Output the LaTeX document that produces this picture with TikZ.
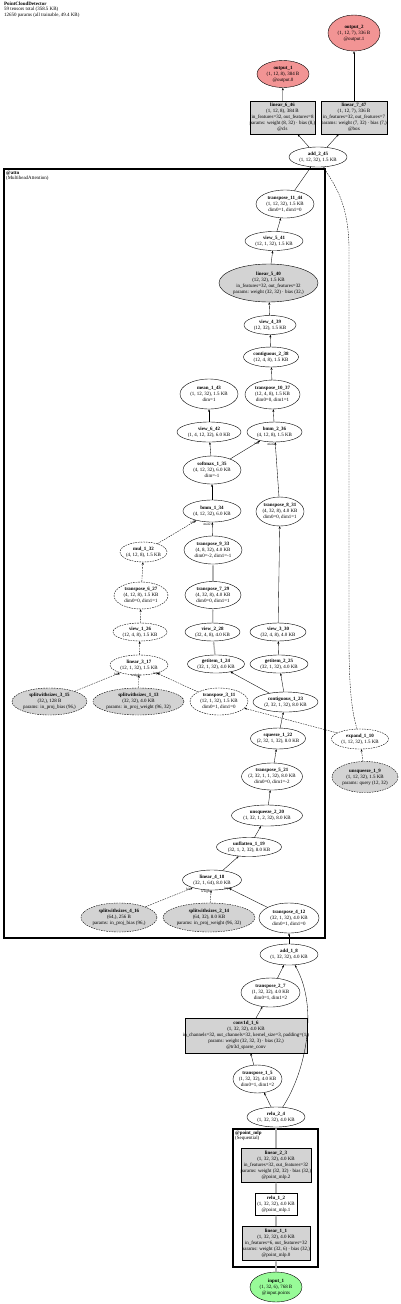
\documentclass[tikz,border=0pt]{standalone}
\usepackage{fontspec}
\setmainfont{Liberation Serif}
\usetikzlibrary{shapes.geometric,arrows.meta}
\definecolor{gfill}{HTML}{D3D3D3}
\definecolor{pinkf}{HTML}{F29494}
\definecolor{greenf}{HTML}{98FB98}
\tikzset{
 base/.style={draw, line width=0.4pt, inner sep=0pt},
 dashpat/.style={dash pattern=on 1.6pt off 1pt},
 el/.style={base, ellipse},
 eld/.style={el, dashpat},
 elg/.style={el, fill=gfill},
 elgd/.style={el, fill=gfill, dashpat},
 bx/.style={base, rectangle, fill=gfill},
 bxw/.style={base, rectangle, fill=white},
 outn/.style={el, fill=pinkf},
 inn/.style={el, fill=greenf},
 txt/.style={align=center, inner sep=0pt, font=\fontsize{4.95}{6.1}\selectfont},
 ed/.style={draw, line width=0.35pt, -{Stealth[length=2.6pt,width=2pt]}},
 edd/.style={ed, dashpat},
 edt/.style={ed, line width=1.3pt, draw=black!30},
 lbl/.style={font=\fontsize{3.5}{4}\selectfont, inner sep=0pt},
 clus/.style={draw, line width=1.6pt},
 hdr/.style={anchor=north west, align=left, inner sep=0pt, font=\fontsize{4.95}{5.3}\selectfont},
}
\newcommand{\nd}[7]{%
  \node[#1, minimum width=#5pt, minimum height=#6pt] (#2) at (#3,#4) {};
  \node[txt] at (#3,#4) {#7};}
\begin{document}
\begin{tikzpicture}[x=1pt,y=-1pt]
\useasboundingbox (0,0) rectangle (400,1304);
\node[hdr] (title) at (4,2) {\textbf{PointCloudDetector}\\59 tensors total (358.5 KB)\\12650 params (all trainable, 49.4 KB)};
% clusters
\draw[clus] (4,169) rectangle (325,938);
\node[hdr] (attnlbl) at (6,171) {\textbf{@attn}\\(MultiheadAttention)};
\draw[clus] (233,1129) rectangle (318,1267);
\node[hdr] (mlplbl) at (235,1131) {\textbf{@point\_mlp}\\(Sequential)};
% nodes
\nd{outn}{o2}{354}{33}{52}{36}{\textbf{output\_2}\\(1, 12, 7), 336 B\\@output.1}
\nd{outn}{o1}{283}{74}{52}{27}{\textbf{output\_1}\\(1, 12, 8), 384 B\\@output.0}
\nd{bx}{n46}{282.5}{117.5}{65}{33}{\textbf{linear\_6\_46}\\(1, 12, 8), 384 B\\in\_features=32, out\_features=8\\params: weight (8, 32) · bias (8,)\\@cls}
\nd{bx}{n47}{354}{117.5}{66}{33}{\textbf{linear\_7\_47}\\(1, 12, 7), 336 B\\in\_features=32, out\_features=7\\params: weight (7, 32) · bias (7,)\\@box}
\nd{el}{n45}{318}{157}{58}{20}{\textbf{add\_2\_45}\\(1, 12, 32), 1.5 KB}
\nd{el}{n44}{285}{204}{58}{28}{\textbf{transpose\_11\_44}\\(1, 12, 32), 1.5 KB\\dim0=1, dim1=0}
\nd{el}{n41}{274}{241}{58}{19}{\textbf{view\_5\_41}\\(12, 1, 32), 1.5 KB}
\nd{elg}{n40}{268.5}{283}{99}{38}{\textbf{linear\_5\_40}\\(12, 32), 1.5 KB\\in\_features=32, out\_features=32\\params: weight (32, 32) · bias (32,)}
\nd{el}{n39}{270}{325}{52}{19}{\textbf{view\_4\_39}\\(12, 32), 1.5 KB}
\nd{el}{n38}{271}{357}{55}{20}{\textbf{contiguous\_2\_38}\\(12, 4, 8), 1.5 KB}
\nd{el}{n43}{209}{394}{58}{30}{\textbf{mean\_1\_43}\\(1, 12, 32), 1.5 KB\\dim=1}
\nd{el}{n37}{272.5}{394.5}{55}{29}{\textbf{transpose\_10\_37}\\(12, 4, 8), 1.5 KB\\dim0=0, dim1=1}
\nd{el}{n42}{209}{432}{64}{20}{\textbf{view\_6\_42}\\(1, 4, 12, 32), 6.0 KB}
\nd{el}{n36}{274.5}{432}{55}{20}{\textbf{bmm\_2\_36}\\(4, 12, 8), 1.5 KB}
\nd{el}{n35}{212}{470}{58}{28}{\textbf{softmax\_1\_35}\\(4, 12, 32), 6.0 KB\\dim=-1}
\nd{el}{n34}{212}{511}{58}{22}{\textbf{bmm\_1\_34}\\(4, 12, 32), 6.0 KB}
\nd{el}{n31}{280}{511.5}{48}{29}{\textbf{transpose\_8\_31}\\(4, 32, 8), 4.0 KB\\dim0=0, dim1=1}
\nd{eld}{n32}{143.5}{552}{47}{20}{\textbf{mul\_1\_32}\\(4, 12, 8), 1.5 KB}
\nd{el}{n33}{213}{550}{58}{28}{\textbf{transpose\_9\_33}\\(4, 8, 32), 4.0 KB\\dim0=-2, dim1=-1}
\nd{eld}{n27}{141}{595.5}{54}{27}{\textbf{transpose\_6\_27}\\(4, 12, 8), 1.5 KB\\dim0=0, dim1=1}
\nd{el}{n29}{213}{595}{56}{27}{\textbf{transpose\_7\_29}\\(4, 32, 8), 4.0 KB\\dim0=0, dim1=1}
\nd{eld}{n26}{140}{632}{54}{18}{\textbf{view\_1\_26}\\(12, 4, 8), 1.5 KB}
\nd{el}{n28}{212.5}{632}{55}{18}{\textbf{view\_2\_28}\\(32, 4, 8), 4.0 KB}
\nd{el}{n30}{278}{632}{56}{18}{\textbf{view\_3\_30}\\(32, 4, 8), 4.0 KB}
\nd{eld}{n17}{139}{665}{58}{20}{\textbf{linear\_3\_17}\\(12, 1, 32), 1.5 KB}
\nd{el}{n24}{216}{664}{57}{18}{\textbf{getitem\_1\_24}\\(32, 1, 32), 4.0 KB}
\nd{el}{n25}{279}{664}{58}{18}{\textbf{getitem\_2\_25}\\(32, 1, 32), 4.0 KB}
\nd{elgd}{n15}{49.5}{701.5}{75}{27}{\textbf{splitwithsizes\_3\_15}\\(32,), 128 B\\params: in\_proj\_bias (96,)}
\nd{elgd}{n13}{138.5}{701.5}{91}{27}{\textbf{splitwithsizes\_1\_13}\\(32, 32), 4.0 KB\\params: in\_proj\_weight (96, 32)}
\nd{eld}{n11}{219}{701.5}{58}{27}{\textbf{transpose\_3\_11}\\(12, 1, 32), 1.5 KB\\dim0=1, dim1=0}
\nd{el}{n23}{285.5}{702}{65}{20}{\textbf{contiguous\_1\_23}\\(2, 32, 1, 32), 8.0 KB}
\nd{el}{n22}{278}{738.5}{55}{21}{\textbf{squeeze\_1\_22}\\(2, 32, 1, 32), 8.0 KB}
\nd{eld}{n10}{360}{739}{57}{20}{\textbf{expand\_1\_10}\\(1, 12, 32), 1.5 KB}
\nd{elgd}{n9}{365}{777}{66}{31}{\textbf{unsqueeze\_1\_9}\\(1, 12, 32), 1.5 KB\\params: query (12, 32)}
\nd{el}{n21}{272}{776.5}{61}{27}{\textbf{transpose\_5\_21}\\(2, 32, 1, 1, 32), 8.0 KB\\dim0=0, dim1=-2}
\nd{el}{n20}{267}{815.5}{71}{21}{\textbf{unsqueeze\_2\_20}\\(1, 32, 1, 2, 32), 8.0 KB}
\nd{el}{n19}{249}{847}{65}{19}{\textbf{unflatten\_1\_19}\\(32, 1, 2, 32), 8.0 KB}
\nd{el}{n18}{212}{880}{59}{20}{\textbf{linear\_4\_18}\\(32, 1, 64), 8.0 KB}
\nd{elgd}{n16}{119}{917.5}{76}{29}{\textbf{splitwithsizes\_4\_16}\\(64,), 256 B\\params: in\_proj\_bias (96,)}
\nd{elgd}{n14}{209}{917.5}{92}{29}{\textbf{splitwithsizes\_2\_14}\\(64, 32), 8.0 KB\\params: in\_proj\_weight (96, 32)}
\nd{el}{n12}{289}{918}{60}{30}{\textbf{transpose\_4\_12}\\(32, 1, 32), 4.0 KB\\dim0=1, dim1=0}
\nd{el}{n8}{289}{954.5}{58}{21}{\textbf{add\_1\_8}\\(1, 32, 32), 4.0 KB}
\nd{el}{n7}{270.5}{992.5}{59}{29}{\textbf{transpose\_2\_7}\\(1, 32, 32), 4.0 KB\\dim0=1, dim1=2}
\nd{bx}{n6}{246}{1035.5}{122}{35}{\textbf{conv1d\_1\_6}\\(1, 32, 32), 4.0 KB\\in\_channels=32, out\_channels=32, kernel\_size=3, padding=(1,)\\params: weight (32, 32, 3) · bias (32,)\\@tr3d\_sparse\_conv}
\nd{el}{n5}{257.5}{1079}{49}{28}{\textbf{transpose\_1\_5}\\(1, 32, 32), 4.0 KB\\dim0=1, dim1=2}
\nd{el}{n4}{276}{1117}{58}{20}{\textbf{relu\_2\_4}\\(1, 32, 32), 4.0 KB}
\nd{bx}{n3}{276}{1165}{70}{34}{\textbf{linear\_2\_3}\\(1, 32, 32), 4.0 KB\\in\_features=32, out\_features=32\\params: weight (32, 32) · bias (32,)\\@point\_mlp.2}
\nd{bxw}{n2}{276}{1204}{42}{22}{\textbf{relu\_1\_2}\\(1, 32, 32), 4.0 KB\\@point\_mlp.1}
\nd{bx}{n1}{276}{1243}{68}{34}{\textbf{linear\_1\_1}\\(1, 32, 32), 4.0 KB\\in\_features=6, out\_features=32\\params: weight (32, 6) · bias (32,)\\@point\_mlp.0}
\nd{inn}{i1}{276}{1287}{52}{30}{\textbf{input\_1}\\(1, 32, 6), 768 B\\@input.points}
% edges
\draw[edt] (i1) -- (n1);
\draw[edt] (n1) -- (n2);
\draw[edt] (n2) -- (n3);
\draw[edt] (n3) -- (n4);
\draw[ed] (n4) -- (n5);
\draw[ed] (n4) .. controls (304,1075) and (320,1010) .. (n8);
\draw[ed] (n5) -- (n6);
\draw[ed] (n6) -- (n7);
\draw[ed] (n7) -- (n8);
\draw[ed] (n8) -- (n12);
\draw[edd] (n16) -- (n18);
\draw[edd] (n14) -- (n18);
\draw[ed] (n12) -- (n18);
\node[lbl] (l18a) at (189,889) {bias};
\node[lbl] (l18b) at (206,892) {weight};
\node[lbl] (l18c) at (228,889) {input};
\draw[ed] (n18) -- (n19);
\draw[ed] (n19) -- (n20);
\draw[ed] (n20) -- (n21);
\draw[ed] (n21) -- (n22);
\draw[ed] (n22) -- (n23);
\draw[ed] (n23) -- (n24);
\draw[ed] (n23) -- (n25);
\draw[edt] (n24) -- (n28);
\draw[edt] (n28) -- (n29);
\draw[edt] (n29) -- (n33);
\draw[ed] (n25) -- (n30);
\draw[ed] (n30) -- (n31);
\draw[edd] (n9) -- (n10);
\draw[edd] (n10) -- (n11);
\draw[edd] (n10) .. controls (352,712) and (349,690) .. (349,640) -- (349,250) .. controls (349,200) and (332,182) .. (n45);
\draw[edd] (n11) -- (n17);
\draw[edd] (n15) -- (n17);
\draw[edd] (n13) -- (n17);
\node[lbl] (l17a) at (117,674) {bias};
\node[lbl] (l17b) at (136,676) {weight};
\node[lbl] (l17c) at (157,674) {input};
\draw[edd] (n17) -- (n26);
\draw[edd] (n26) -- (n27);
\draw[edd] (n27) -- (n32);
\draw[edd] (n32) -- (n34);
\draw[ed] (n33) -- (n34);
\node[lbl] (l34a) at (193,522.5) {self};
\node[lbl] (l34b) at (207,524.5) {mat2};
\draw[ed] (n34) -- (n35);
\draw[ed] (n35) -- (n42);
\draw[ed] (n42) -- (n43);
\draw[ed] (n35) -- (n36);
\draw[ed] (n31) -- (n36);
\node[lbl] (l36a) at (257,443) {self};
\node[lbl] (l36b) at (271,444.5) {mat2};
\draw[ed] (n36) -- (n37);
\draw[ed] (n37) -- (n38);
\draw[ed] (n38) -- (n39);
\draw[ed] (n39) -- (n40);
\draw[ed] (n40) -- (n41);
\draw[ed] (n41) -- (n44);
\draw[ed] (n44) -- (n45);
\draw[ed] (n45) -- (n46);
\draw[ed] (n45) -- (n47);
\draw[ed] (n46) -- (o1);
\draw[ed] (n47) -- (o2);
\end{tikzpicture}
\end{document}
